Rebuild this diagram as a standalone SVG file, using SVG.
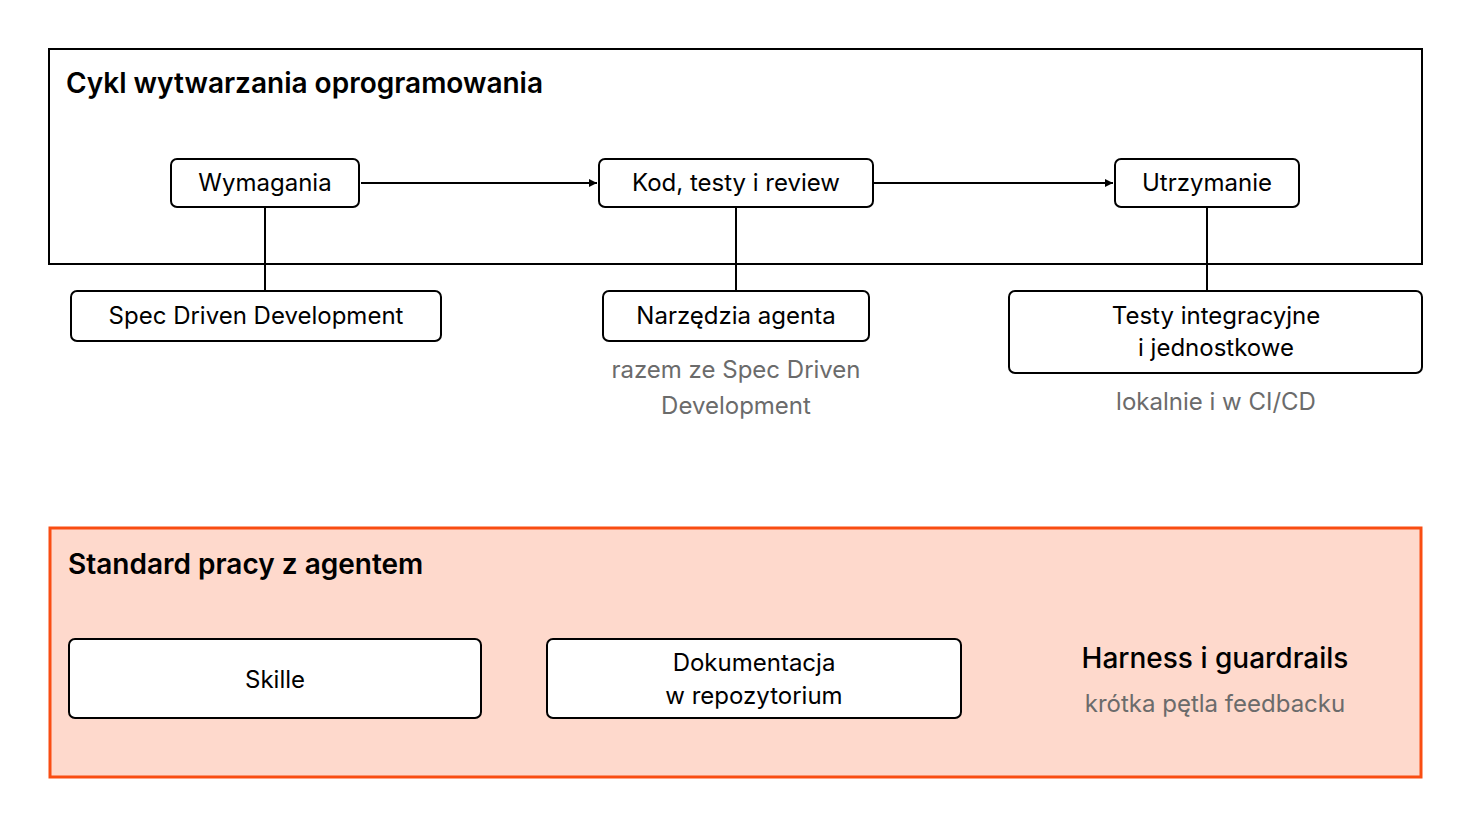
<svg xmlns="http://www.w3.org/2000/svg" width="1472" height="828" viewBox="0 0 1472 828">
<style>
text{font-family:"Inter","Noto Sans",sans-serif;fill:#000}
.n{fill:#fff;stroke:#000;stroke-width:2}
.t{font-size:24px;text-anchor:middle}
.h{font-size:28px;font-weight:600}
.g{font-size:24px;fill:#6b6b6b;text-anchor:middle}
.c{stroke:#000;stroke-width:2;fill:none}
</style>
<defs><marker id="a" viewBox="0 0 10 10" refX="10" refY="5" markerWidth="8" markerHeight="8" markerUnits="userSpaceOnUse" orient="auto"><path d="M0,0L10,5L0,10z" fill="#000"/></marker></defs>
<rect width="1472" height="828" fill="#fff"/>
<g id="frame1"><rect x="49" y="49" width="1373" height="215" fill="#fff" stroke="#000" stroke-width="2"/><text class="h" x="66" y="93">Cykl wytwarzania oprogramowania</text></g>
<g id="frame2"><rect x="50" y="528" width="1371" height="249" fill="#fed9cc" stroke="#f94d12" stroke-width="3"/><text class="h" x="68" y="574">Standard pracy z agentem</text></g>
<g id="connectors">
<path class="c" d="M361,183H597" marker-end="url(#a)"/>
<path class="c" d="M874,183H1113" marker-end="url(#a)"/>
<path class="c" d="M265,208V291M736,208V291M1207,208V291"/>
</g>
<g id="n1"><rect class="n" x="171" y="159" width="188" height="48" rx="6"/><text class="t" x="265" y="191">Wymagania</text></g>
<g id="n2"><rect class="n" x="599" y="159" width="274" height="48" rx="6"/><text class="t" x="736" y="191">Kod, testy i review</text></g>
<g id="n3"><rect class="n" x="1115" y="159" width="184" height="48" rx="6"/><text class="t" x="1207" y="191">Utrzymanie</text></g>
<g id="n4"><rect class="n" x="71" y="291" width="370" height="50" rx="6"/><text class="t" x="256" y="324">Spec Driven Development</text></g>
<g id="n5"><rect class="n" x="603" y="291" width="266" height="50" rx="6"/><text class="t" x="736" y="324">Narzędzia agenta</text><text class="g" x="736" y="378">razem ze Spec Driven</text><text class="g" x="736" y="414">Development</text></g>
<g id="n6"><rect class="n" x="1009" y="291" width="413" height="82" rx="6"/><text class="t" x="1216" y="324">Testy integracyjne</text><text class="t" x="1216" y="356">i jednostkowe</text><text class="g" x="1216" y="410">lokalnie i w CI/CD</text></g>
<g id="n7"><rect class="n" x="69" y="639" width="412" height="79" rx="6"/><text class="t" x="275" y="688">Skille</text></g>
<g id="n8"><rect class="n" x="547" y="639" width="414" height="79" rx="6"/><text class="t" x="754" y="671">Dokumentacja</text><text class="t" x="754" y="704">w repozytorium</text></g>
<g id="n9"><text x="1215" y="668" font-size="28" text-anchor="middle" font-weight="500">Harness i guardrails</text><text class="g" x="1215" y="712">krótka pętla feedbacku</text></g>
</svg>
